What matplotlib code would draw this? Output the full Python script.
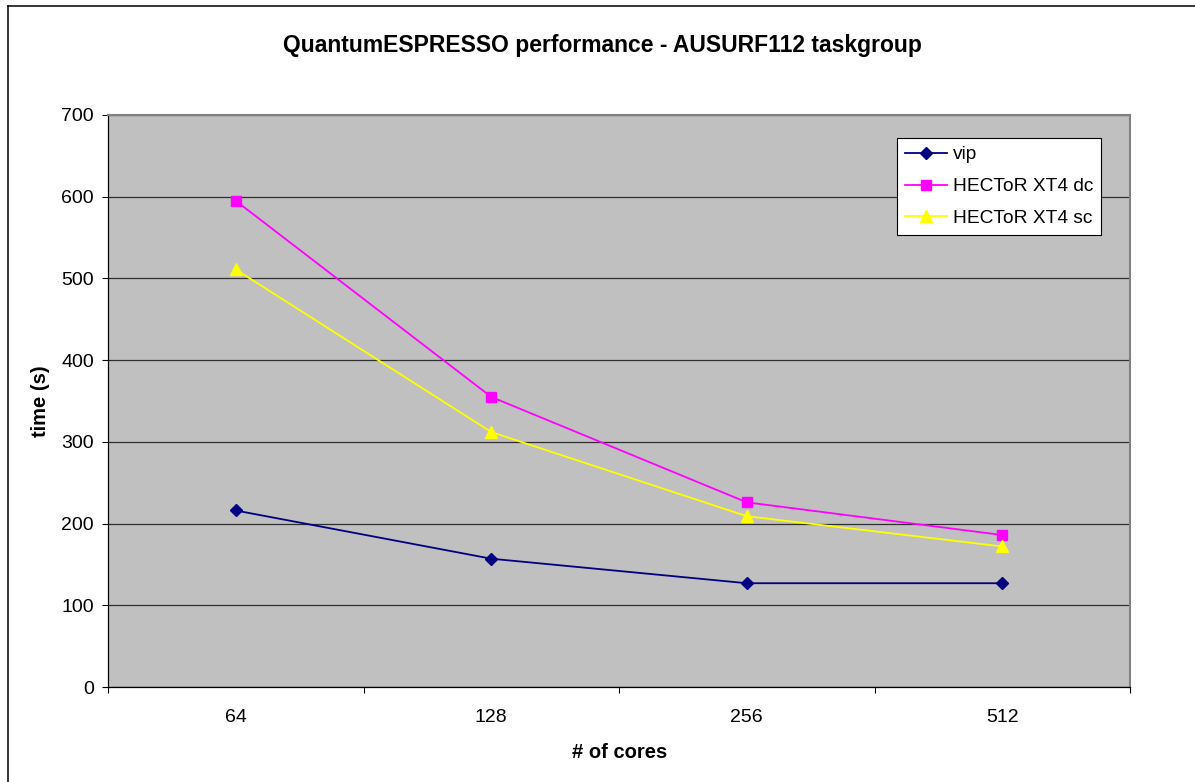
import numpy as np
import matplotlib.pyplot as plt
from matplotlib.lines import Line2D

plt.rcParams['font.family'] = ['Liberation Sans', 'DejaVu Sans']

# Data
cores = ['64', '128', '256', '512']
vip = [216, 157, 127, 127]
xt4_dc = [595, 355, 226, 186]
xt4_sc = [511, 312, 209, 172]

W, H = 1195, 782
fig = plt.figure(figsize=(W / 100, H / 100), dpi=100)
fig.patch.set_facecolor('white')

# plot area in pixels: x 108..1130, y 115..687
ax = fig.add_axes([108 / W, 1 - 687 / H, (1130 - 108) / W, (687 - 115) / H])
ax.set_facecolor('#C0C0C0')

x = np.arange(len(cores))
ax.plot(x, vip, color='#000080', lw=1.3, marker='D', ms=6.5, label='vip', zorder=4)
ax.plot(x, xt4_dc, color='#FF00FF', lw=1.3, marker='s', ms=6.5, label='HECToR XT4 dc', zorder=3)
ax.plot(x, xt4_sc, color='#FFFF00', lw=1.3, marker='^', ms=8, label='HECToR XT4 sc', zorder=3)

ax.set_xlim(-0.5, len(cores) - 0.5)
ax.set_ylim(0, 700)
ax.set_yticks(np.arange(0, 701, 100))
ax.yaxis.grid(True, color='#303030', lw=0.9)
ax.set_axisbelow(True)

ax.set_xticks(x)
ax.set_xticklabels(cores)
ax.set_xticks(np.arange(-0.5, len(cores), 1), minor=True)
ax.tick_params(axis='x', which='major', length=0, pad=16, labelsize=14)
ax.tick_params(axis='x', which='minor', length=4, width=0.8, direction='out')
ax.tick_params(axis='y', length=4, width=0.8, pad=6, labelsize=14)

for s in ['left', 'bottom']:
    ax.spines[s].set_color('black')
    ax.spines[s].set_linewidth(0.9)
for s in ['top', 'right']:
    ax.spines[s].set_color('#808080')
    ax.spines[s].set_linewidth(1.5)

leg = ax.legend(loc='upper right', bbox_to_anchor=(1101 / W, 1 - 138 / H),
                bbox_transform=fig.transFigure, borderaxespad=0,
                fontsize=13.8, frameon=True, fancybox=False, framealpha=1,
                edgecolor='black', handlelength=2.2, handletextpad=0.3,
                labelspacing=0.75, borderpad=0.42)
leg.get_frame().set_linewidth(0.8)

fig.text(602 / W, 1 - 52 / H, 'QuantumESPRESSO performance - AUSURF112 taskgroup',
         ha='center', va='baseline', fontsize=16.5, fontweight='bold')
fig.text(41 / W, 1 - 401 / H, 'time (s)', rotation=90, ha='center', va='center',
         fontsize=14.5, fontweight='bold')
fig.text(620 / W, 1 - 752 / H, '# of cores', ha='center', va='center',
         fontsize=14.5, fontweight='bold')

# chart frame (left and top edges visible)
fig.add_artist(Line2D([7.5 / W, 7.5 / W], [0, 1 - 5.5 / H], color='black', lw=1.1,
                      transform=fig.transFigure))
fig.add_artist(Line2D([7.5 / W, 1], [1 - 5.5 / H, 1 - 5.5 / H], color='black', lw=1.1,
                      transform=fig.transFigure))

fig.savefig('out.png', dpi=100)
